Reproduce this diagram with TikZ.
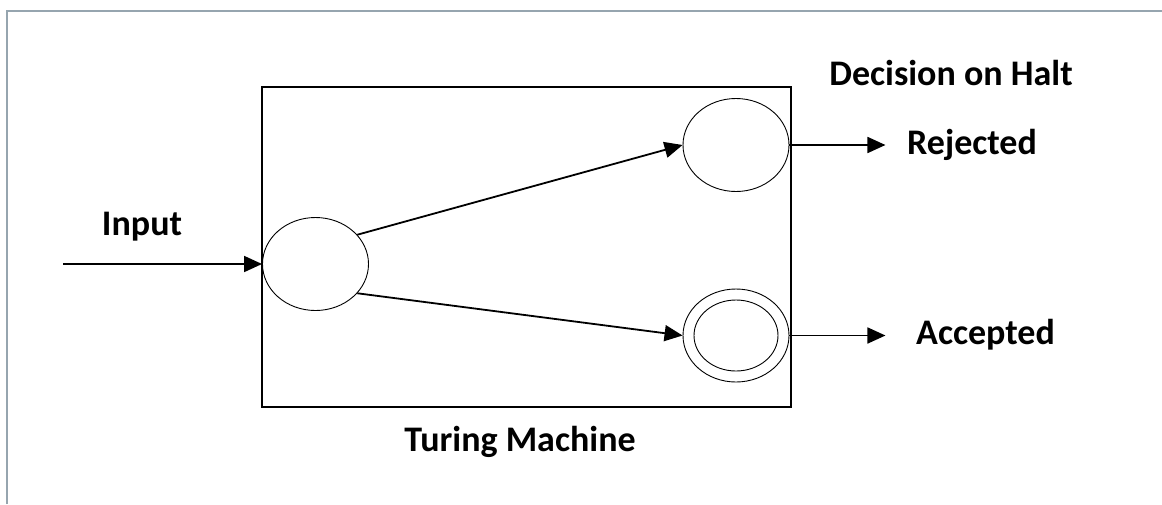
\documentclass[tikz,border=0pt]{standalone}
\usepackage{fontspec}
\setmainfont{Carlito}
\usetikzlibrary{shapes.geometric,arrows.meta}

\definecolor{cadre}{RGB}{150,165,175}

\tikzset{
  etat/.style={ellipse, draw, line width=0.9pt, minimum width=106pt, minimum height=93pt, inner sep=0pt},
  fleche/.style={line width=1.8pt, -{Triangle[length=18pt,width=16pt]}},
  etiquette/.style={font=\fontsize{36}{42}\selectfont\bfseries, inner sep=0pt}
}

\begin{document}
\begin{tikzpicture}[x=1pt,y=-1pt]
      % Cadre
      \useasboundingbox (0,0) rectangle (1162,504);
      \fill[white] (0,0) rectangle (1162,504);
      \draw[cadre, line width=2pt] (7,504) -- (7,11) -- (1162,11);

      % Machine de Turing
      \draw[line width=1.3pt] (262,87) rectangle (791,407);
      \node[etiquette] (tm) at (520,442) {Turing Machine};

      % Etats
      \node[etat] (q0) at (315.5,264) {};
      \node[etat] (rej) at (736,145) {};
      \node[etat] (acc) at (736,335.5) {};
      \node[etat, minimum width=84pt, minimum height=71pt] (acc2) at (736,335.5) {};

      % Transitions
      \draw[fleche] (q0.35) -- (rej.west);
      \draw[fleche] (q0.-35) -- (acc.west);

      % Entree
      \coordinate (in) at (63,264);
      \draw[fleche] (in) -- (q0.west);
      \node[etiquette] (input) at (142,227) {Input};

      % Sorties
      \node[etiquette, anchor=west] (rejected) at (907,145) {Rejected};
      \node[etiquette, anchor=west] (accepted) at (916,335) {Accepted};
      \draw[fleche] (rej.east) -- ++(96,0);
      \draw[fleche] (acc.east) -- ++(96,0);
      \node[etiquette] (halt) at (951,73) {Decision on Halt};
\end{tikzpicture}
\end{document}
